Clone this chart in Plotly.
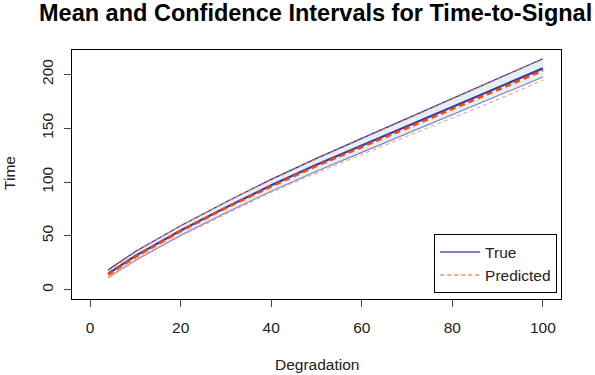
import plotly.graph_objects as go

degradation = [4, 10, 20, 30, 40, 50, 60, 70, 80, 90, 100]
true_mean = [15, 31.5, 55, 76.5, 97, 116, 134, 152, 170, 188, 205.5]
true_lower = [11.5, 27.5, 50.5, 71.5, 91.5, 110, 127.5, 145, 162, 180, 197.5]
true_upper = [18.5, 35.5, 59.5, 81.5, 102.5, 122, 140.5, 159, 178, 196.5, 214.5]
pred_mean = [14, 30.5, 54.5, 76, 96, 115, 132.5, 150, 167.5, 185.5, 203.5]
pred_lower = [11, 27, 50, 70.5, 90.5, 108.5, 125.5, 142, 159, 176.5, 194.5]
pred_upper = [17.5, 35, 59.5, 81.5, 102, 121.5, 140, 158.5, 177, 196, 214]

x_ticks = [0, 20, 40, 60, 80, 100]
y_ticks = [0, 50, 100, 150, 200]

FONT = "Liberation Sans, Arial, sans-serif"
FS = 15.5
fig = go.Figure()

# light blue band
fig.add_trace(go.Scatter(x=degradation, y=true_upper, mode="lines", line=dict(width=0),
                         showlegend=False, hoverinfo="skip"))
fig.add_trace(go.Scatter(x=degradation, y=true_lower, mode="lines", line=dict(width=0),
                         fill="tonexty", fillcolor="rgba(173,216,230,0.35)",
                         showlegend=False, hoverinfo="skip"))

# true CI bounds
fig.add_trace(go.Scatter(x=degradation, y=true_upper, mode="lines",
                         line=dict(color="#2a2aa5", width=1.2), showlegend=False))
fig.add_trace(go.Scatter(x=degradation, y=true_lower, mode="lines",
                         line=dict(color="#8080d2", width=1.2), showlegend=False))
# predicted CI bounds
fig.add_trace(go.Scatter(x=degradation, y=pred_upper, mode="lines",
                         line=dict(color="#ff7f50", width=1.1, dash="4px,3px"), showlegend=False))
fig.add_trace(go.Scatter(x=degradation, y=pred_lower, mode="lines",
                         line=dict(color="#ffa080", width=1.1, dash="4px,3px"), showlegend=False))
# means
fig.add_trace(go.Scatter(x=degradation, y=true_mean, mode="lines",
                         line=dict(color="#3838aa", width=2.2), showlegend=False))
fig.add_trace(go.Scatter(x=degradation, y=pred_mean, mode="lines",
                         line=dict(color="#ff4500", width=2.6, dash="6px,4px"), showlegend=False))

# legend entries
fig.add_trace(go.Scatter(x=[None], y=[None], mode="lines", name="True",
                         line=dict(color="#5555b5", width=1.5)))
fig.add_trace(go.Scatter(x=[None], y=[None], mode="lines", name="Predicted",
                         line=dict(color="#ff8c69", width=1.5, dash="4px,3px")))

L, R, T, B = 72, 34.4, 50, 76
W, H = 595, 375
pw = W - L - R
ph = H - T - B

def px_x(p):
    return (p - L) / pw

def px_y(p):
    return (H - B - p) / ph

fig.update_layout(
    width=W, height=H,
    margin=dict(l=L, r=R, t=T, b=B),
    paper_bgcolor="white", plot_bgcolor="white",
    font=dict(family=FONT, size=FS, color="#222222"),
    showlegend=True,
    legend=dict(x=px_x(556.7), y=px_y(293.3), xanchor="right", yanchor="bottom",
                bordercolor="black", borderwidth=1, bgcolor="white",
                font=dict(size=FS, family=FONT, color="#222222"),
                traceorder="normal", tracegroupgap=0, itemwidth=40),
    xaxis=dict(range=[-4, 104], tickvals=x_ticks, ticktext=[str(v) for v in x_ticks],
               showgrid=False, zeroline=False, showline=True, linecolor="black", linewidth=1,
               mirror=True, ticks="outside", ticklen=7, tickcolor="#444444",
               ticklabelstandoff=7,
               tickfont=dict(size=FS, family=FONT, color="#222222")),
    yaxis=dict(range=[-8.56, 222.56], tickvals=y_ticks, ticktext=[str(v) for v in y_ticks],
               tickangle=-90, ticklabelstandoff=5,
               showgrid=False, zeroline=False, showline=True, linecolor="black", linewidth=1,
               mirror=True, ticks="outside", ticklen=7, tickcolor="#444444",
               tickfont=dict(size=FS, family=FONT, color="#222222")),
    annotations=[
        dict(text="<b>Mean and Confidence Intervals for Time-to-Signal</b>", xref="paper", yref="paper",
             x=px_x(315), y=px_y(13.5), xanchor="center", yanchor="middle", showarrow=False,
             font=dict(size=23.5, family=FONT, color="black")),
        dict(text="Degradation", xref="paper", yref="paper", x=px_x(317), y=px_y(364),
             xanchor="center", yanchor="middle", showarrow=False,
             font=dict(size=FS, family=FONT, color="#222222")),
        dict(text="Time", xref="paper", yref="paper", x=px_x(9), y=px_y(173),
             xanchor="center", yanchor="middle", showarrow=False, textangle=-90,
             font=dict(size=FS, family=FONT, color="#222222")),
    ],
)

fig.write_html("out.html")
